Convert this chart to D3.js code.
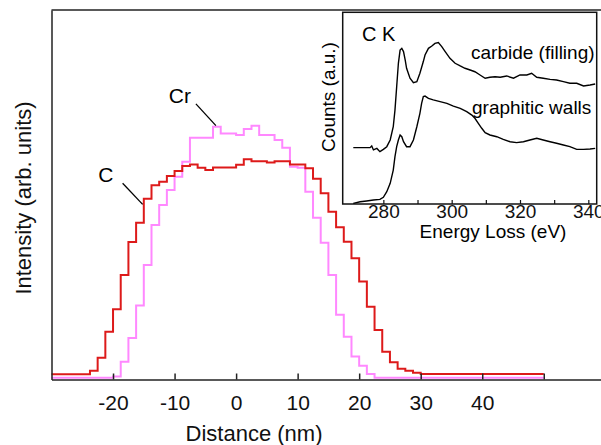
<!DOCTYPE html>
<html>
<head>
<meta charset="utf-8">
<script src="https://cdn.jsdelivr.net/npm/d3@7"></script>
<style>
  body { margin: 0; background: #fff; }
  svg { display: block; font-family: Arial, "Liberation Sans", sans-serif; }
</style>
</head>
<body>
<div class="chart"></div>
<script>
var width = 601;
var height = 445;

// line profile across the tube, left edge of each 1.25 nm bin
var distance = [-30, -28.75, -27.5, -26.25, -25, -23.75, -22.5, -21.25, -20, -18.75, -17.5, -16.25,
  -15, -13.75, -12.5, -11.25, -10, -8.75, -7.5, -6.25, -5, -3.75, -2.5, -1.25,
  0, 1.25, 2.5, 3.75, 5, 6.25, 7.5, 8.75, 10, 11.25, 12.5, 13.75,
  15, 16.25, 17.5, 18.75, 20, 21.25, 22.5, 23.75, 25, 26.25, 27.5, 28.75,
  30, 31.25, 32.5, 33.75, 35, 36.25, 37.5, 38.75, 40, 41.25, 42.5, 43.75,
  45, 46.25, 47.5, 48.75];
var binWidth = 1.25;

var carbon = [1.4, 1.4, 1.4, 1.4, 1.4, 2.4, 5.9, 12.9, 19.0, 28.3, 37.2, 42.4,
  48.9, 52.6, 53.5, 55.1, 56.4, 57.8, 58.2, 57.3, 56.7, 57.4, 57.4, 57.4,
  58.1, 59.6, 59.1, 59.1, 58.7, 59.1, 59.1, 58.2, 58.2, 57.2, 54.3, 50.4,
  45.4, 41.2, 37.3, 32.8, 26.5, 19.7, 13.4, 7.5, 4.7, 2.9, 2.4, 1.8,
  1.5, 1.5, 1.5, 1.5, 1.5, 1.5, 1.5, 1.5, 1.5, 1.5, 1.5, 1.5,
  1.5, 1.5, 1.5, 1.5];

var chromium = [0.5, 0.5, 0.5, 0.5, 0.5, 0.5, 0.5, 0.5, 0.8, 4.8, 11.2, 20.0,
  31.0, 41.8, 47.2, 51.3, 54.9, 58.9, 65.4, 65.4, 65.4, 68.4, 66.6, 66.6,
  66.2, 67.8, 68.7, 66.2, 66.2, 64.8, 62.7, 57.6, 57.3, 50.8, 43.8, 37.0,
  28.3, 17.5, 11.6, 6.2, 3.7, 1.5, 0.5, 0.5, 0.5, 0.5, 0.5, 0.5,
  0.5, 0.5, 0.5, 0.5, 0.5, 0.5, 0.5, 0.5, 0.5, 0.5, 0.5, 0.5,
  0.5, 0.5, 0.5, 0.5];

var xTicks = [-20, -10, 0, 10, 20, 30, 40, 50];
var xTickLabels = ['-20', '-10', '0', '10', '20', '30', '40', ''];

// inset: C K edge
var carbideEnergy = [271.2, 276.1, 276.6, 277.1, 278.1, 279.0, 280.0, 281.0, 282.0, 282.9, 283.4, 283.9,
  284.4, 284.9, 285.4, 285.9, 286.4, 286.8, 287.8, 288.8, 289.8, 290.7, 291.7, 292.2,
  293.2, 294.2, 295.1, 296.1, 297.1, 298.1, 299.5, 301.0, 302.5, 303.9, 305.4, 306.8,
  308.3, 309.8, 311.2, 312.7, 314.2, 316.1, 318.1, 320.0, 322.0, 323.4, 324.9, 326.8,
  328.8, 330.7, 332.7, 334.6, 336.6, 338.6, 340.5, 342.0];
var carbideCounts = [29.4, 29.4, 30.3, 28.2, 29.0, 27.3, 28.5, 29.9, 33.4, 40.3, 49.0, 61.2,
  73.4, 80.3, 81.2, 79.5, 75.1, 70.8, 65.6, 63.3, 63.8, 68.2, 74.3, 77.7,
  81.2, 82.4, 83.8, 84.2, 82.1, 79.5, 76.0, 73.4, 72.0, 70.8, 69.9, 69.0,
  67.3, 65.6, 66.1, 66.4, 66.1, 66.8, 65.6, 67.3, 67.3, 68.2, 66.1, 65.6,
  65.0, 64.7, 63.8, 63.0, 63.0, 61.6, 62.1, 62.6];

var wallsEnergy = [271.2, 273.2, 275.1, 277.1, 279.0, 280.0, 281.0, 282.0, 282.9, 283.4, 283.9, 284.4,
  284.9, 285.4, 285.9, 286.8, 287.8, 288.8, 289.8, 290.7, 291.2, 291.7, 292.2, 293.2,
  294.6, 296.6, 298.6, 300.5, 302.5, 304.4, 305.9, 306.8, 307.8, 308.8, 309.8, 311.2,
  313.2, 315.1, 317.1, 319.0, 321.0, 322.9, 324.9, 326.8, 328.8, 330.7, 332.7, 334.6,
  336.6, 338.6, 340.5, 342.0];
var wallsCounts = [0.3, 1.2, 1.6, 2.1, 2.4, 3.5, 6.4, 10.8, 17.7, 24.7, 29.9, 33.4,
  36.0, 35.1, 32.5, 29.9, 29.9, 33.4, 40.3, 47.3, 52.5, 56.0, 56.3, 55.1,
  54.3, 53.4, 52.5, 51.1, 49.9, 48.2, 46.4, 44.7, 42.1, 39.5, 37.2, 36.0,
  35.1, 33.7, 32.5, 32.0, 32.5, 33.4, 34.3, 33.4, 32.5, 31.7, 30.8, 29.9,
  28.5, 28.5, 28.7, 29.0];

var insetTicks = [280, 290, 300, 310, 320, 330, 340];
var insetTickLabels = ['280', '', '300', '', '320', '', '340'];

var x = d3.scaleLinear().domain([-30, 59.3]).range([51.5, 601]);
var y = d3.scaleLinear().domain([0, 100]).range([379.5, 10]);

var svg = d3.select('.chart').append('svg')
    .attr('width', width)
    .attr('height', height);

// step outline of a histogram, closed at the right edge of the last bin
function steps(values) {
  var pts = values.map((v, i) => [distance[i], v]);
  pts.push([distance[distance.length - 1] + binWidth, values[values.length - 1]]);
  return d3.line()
    .x(d => x(d[0]))
    .y(d => y(d[1]))
    .curve(d3.curveStepAfter)(pts);
}

svg.append('path')
    .attr('d', steps(chromium))
    .attr('fill', 'none')
    .attr('stroke', '#ff88ff')
    .attr('stroke-width', 2);

svg.append('path')
    .attr('d', steps(carbon))
    .attr('fill', 'none')
    .attr('stroke', '#dd1a1a')
    .attr('stroke-width', 2);

// axes
var xAxis = svg.append('g')
    .attr('transform', `translate(0, ${y(0)})`)
    .call(d3.axisBottom(x)
      .tickValues(xTicks)
      .tickFormat((d, i) => xTickLabels[i])
      .tickSizeInner(-6)
      .tickSizeOuter(0)
      .tickPadding(16));
xAxis.selectAll('text').style('font-size', '21px').attr('fill', '#111');
xAxis.selectAll('line, path').attr('stroke', '#222').attr('stroke-width', 1.5);

var yAxis = svg.append('g')
    .attr('transform', `translate(${x(-30)}, 0)`)
    .call(d3.axisLeft(y).tickValues([]).tickSizeOuter(0));
yAxis.select('path').attr('stroke', '#222').attr('stroke-width', 1.5);

svg.append('line')
    .attr('x1', x(-30)).attr('x2', width)
    .attr('y1', y(100)).attr('y2', y(100))
    .attr('stroke', '#222')
    .attr('stroke-width', 1.5);

svg.append('text')
    .attr('x', 254)
    .attr('y', 441)
    .attr('text-anchor', 'middle')
    .style('font-size', '22px')
    .attr('fill', '#111')
    .text('Distance (nm)');

svg.append('text')
    .attr('transform', 'translate(31, 198) rotate(-90)')
    .attr('text-anchor', 'middle')
    .style('font-size', '22px')
    .attr('fill', '#111')
    .text('Intensity (arb. units)');

// element labels with leader lines
svg.append('text')
    .attr('x', x(-21.15)).attr('y', y(53.45))
    .attr('text-anchor', 'middle')
    .style('font-size', '21px')
    .text('C');
svg.append('line')
    .attr('x1', x(-18.44)).attr('y1', y(53.1))
    .attr('x2', x(-15.19)).attr('y2', y(47.4))
    .attr('stroke', '#000').attr('stroke-width', 1.3);

svg.append('text')
    .attr('x', x(-9.13)).attr('y', y(74.9))
    .attr('text-anchor', 'middle')
    .style('font-size', '21px')
    .text('Cr');
svg.append('line')
    .attr('x1', x(-6.53)).attr('y1', y(74.6))
    .attr('x2', x(-3.28)).attr('y2', y(68.7))
    .attr('stroke', '#000').attr('stroke-width', 1.3);

// inset
var ix = d3.scaleLinear().domain([268.1, 342.45]).range([342.7, 596.7]);
var iy = d3.scaleLinear().domain([0, 100]).range([204, 12.3]);

var inset = svg.append('g');

inset.append('rect')
    .attr('x', ix.range()[0])
    .attr('y', iy.range()[1])
    .attr('width', ix.range()[1] - ix.range()[0])
    .attr('height', iy.range()[0] - iy.range()[1])
    .attr('fill', '#fff')
    .attr('stroke', '#111')
    .attr('stroke-width', 1.5);

var spectrum = d3.line()
    .x(d => ix(d[0]))
    .y(d => iy(d[1]));

inset.append('path')
    .attr('d', spectrum(carbideEnergy.map((e, i) => [e, carbideCounts[i]])))
    .attr('fill', 'none')
    .attr('stroke', '#000')
    .attr('stroke-width', 1.4);

inset.append('path')
    .attr('d', spectrum(wallsEnergy.map((e, i) => [e, wallsCounts[i]])))
    .attr('fill', 'none')
    .attr('stroke', '#000')
    .attr('stroke-width', 1.4);

var iAxis = inset.append('g')
    .attr('transform', `translate(0, ${iy(0)})`)
    .call(d3.axisBottom(ix)
      .tickValues(insetTicks)
      .tickFormat((d, i) => insetTickLabels[i])
      .tickSizeInner(-4)
      .tickSizeOuter(0)
      .tickPadding(0));
iAxis.select('path').remove();
iAxis.selectAll('line').attr('stroke', '#111').attr('stroke-width', 1.2);
iAxis.selectAll('text').style('font-size', '19px').attr('fill', '#111');

inset.append('text')
    .attr('x', 493).attr('y', 238)
    .attr('text-anchor', 'middle')
    .style('font-size', '19px')
    .text('Energy Loss (eV)');

inset.append('text')
    .attr('transform', 'translate(335, 97) rotate(-90)')
    .attr('text-anchor', 'middle')
    .style('font-size', '19px')
    .text('Counts (a.u.)');

inset.append('text')
    .attr('x', 362).attr('y', 41)
    .style('font-size', '20px')
    .text('C K');

inset.append('text')
    .attr('x', 471).attr('y', 59)
    .style('font-size', '19px')
    .text('carbide (filling)');

inset.append('text')
    .attr('x', 472).attr('y', 114)
    .style('font-size', '19px')
    .text('graphitic walls');
</script>
</body>
</html>
